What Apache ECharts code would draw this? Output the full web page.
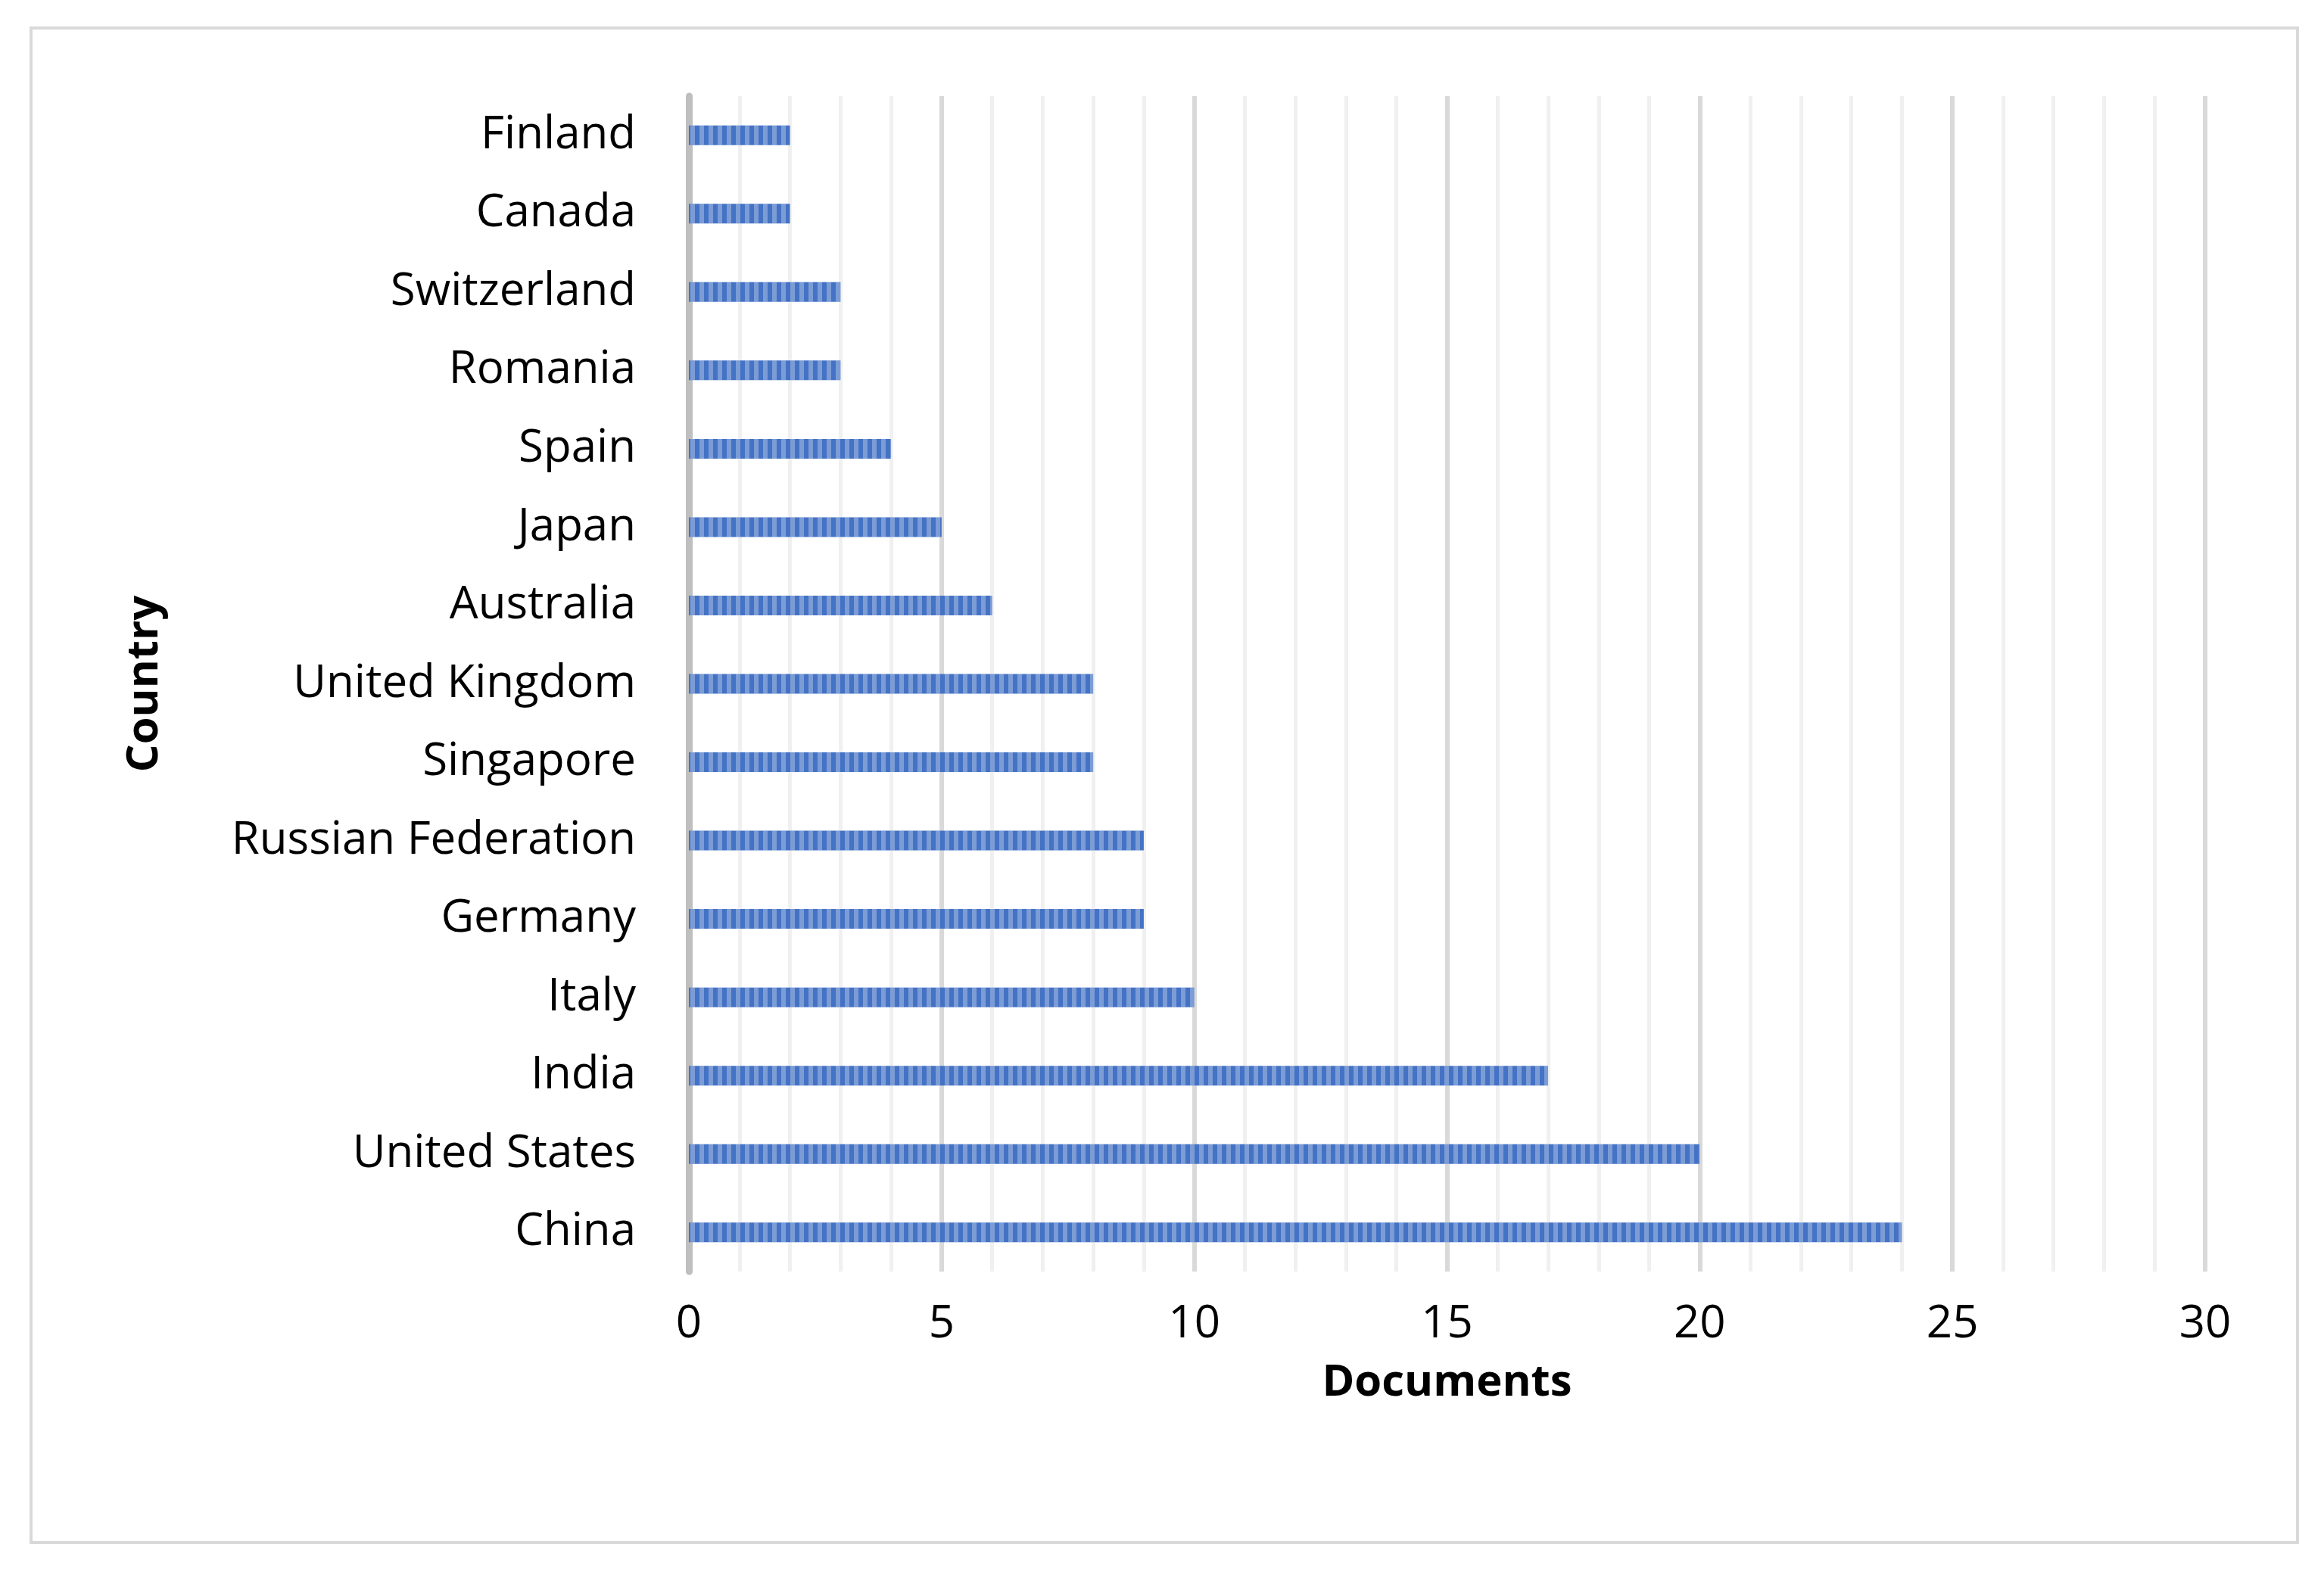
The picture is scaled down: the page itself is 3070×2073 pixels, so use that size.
<!DOCTYPE html><html><head><meta charset="utf-8">
<script src="https://cdn.jsdelivr.net/npm/echarts@6/dist/echarts.min.js"></script>
<style>html,body{margin:0;padding:0;background:#fff}#c{width:3070px;height:2073px}
#b{position:absolute;left:39px;top:35px;width:2998px;height:2005px;border:4px solid #d9d9d9;box-sizing:border-box;pointer-events:none}</style>
</head><body><div id="c"></div><div id="b"></div>
<script>
const categories=["China","United States","India","Italy","Germany","Russian Federation","Singapore","United Kingdom","Australia","Japan","Spain","Romania","Switzerland","Canada","Finland"];
const documents=[24,20,17,10,9,9,8,8,6,5,4,3,3,2,2];
const font="Open Sans";
const chart=echarts.init(document.getElementById('c'));
chart.setOption({
 animation:false,
 grid:{left:910,right:157,top:127,bottom:393,containLabel:false},
 xAxis:{type:'value',min:0,max:30,interval:5,
  name:'Documents',nameLocation:'middle',nameGap:118,
  nameTextStyle:{fontFamily:font,fontWeight:'bold',fontSize:58,color:'#000'},
  axisLabel:{fontFamily:font,fontSize:60,color:'#000',margin:40},
  axisLine:{show:false},axisTick:{show:false},
  splitLine:{show:true,lineStyle:{color:'#d9d9d9',width:6}},
  minorTick:{show:false,splitNumber:5},
  minorSplitLine:{show:true,lineStyle:{color:'#f0f0f0',width:5}}},
 yAxis:{type:'category',data:categories,
  name:'Country',nameLocation:'middle',nameGap:690,nameRotate:90,
  nameTextStyle:{fontFamily:font,fontWeight:'bold',fontSize:58,color:'#000'},
  axisLabel:{fontFamily:font,fontSize:60,color:'#000',margin:70},
  axisLine:{show:true,lineStyle:{color:'#bfbfbf',width:9}},axisTick:{show:false}},
 series:[{type:'bar',data:documents,barWidth:26,
  itemStyle:{color:'#4472c4',decal:{symbol:'rect',color:'rgba(255,255,255,0.3)',dashArrayX:[[6,6]],dashArrayY:[30,0],rotation:0}}}]
});
</script></body></html>
